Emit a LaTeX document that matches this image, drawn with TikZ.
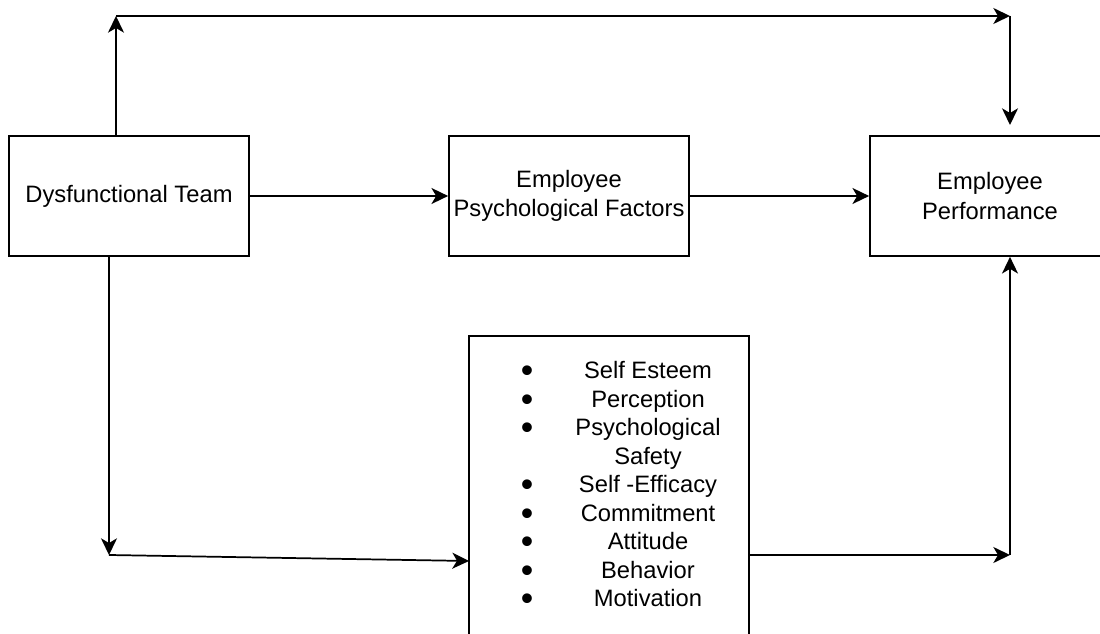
\documentclass[tikz,border=0pt]{standalone}
\usepackage{fontspec}
\setmainfont{Liberation Sans}
\usepackage{array}
\usetikzlibrary{arrows.meta}
\newcommand{\bigbul}{\smash{\raisebox{-0.17em}{\scalebox{1.5}{\textbullet}}}}
\begin{document}
\begin{tikzpicture}[x=0.75pt,y=-0.75pt,
  box/.style={draw,line width=1.3pt,minimum width=180pt,minimum height=90pt,align=center,inner sep=0pt,
    font=\fontsize{17.8}{22}\selectfont},
  arr/.style={line width=1.3pt,-{Stealth[length=12.5pt,width=12pt,inset=3.5pt]}}]
\useasboundingbox (0,0) rectangle (1100,634);
\node[box] (dt) at (129,196) {Dysfunctional Team};
\node[box] (epf) at (569,196) {Employee\\Psychological Factors};
\node[box] (ep) at (990,196) {Employee\\Performance};
\node[draw,line width=1.3pt,minimum width=210pt,minimum height=243pt,inner sep=0pt] (list) at (609,498) {};
\node[inner sep=0pt,font=\fontsize{17.8}{21.4}\selectfont] (items) at (638,487) {%
\begin{tabular}{@{}>{\centering\arraybackslash}p{15pt}@{}>{\centering\arraybackslash}p{166.5pt}@{}}
\bigbul & Self Esteem\\
\bigbul & Perception\\
\bigbul & Psychological\\
 & Safety\\
\bigbul & Self -Efficacy\\
\bigbul & Commitment\\
\bigbul & Attitude\\
\bigbul & Behavior\\
\bigbul & Motivation
\end{tabular}};
\coordinate (tl) at (116,16);
\coordinate (tr) at (1010,16);
\coordinate (epin) at (1010,125);
\coordinate (bl) at (109,555);
\coordinate (lin) at (469,561);
\coordinate (br) at (1010,555);
\draw[arr] (tl |- dt.north) -- (tl);
\draw[arr] (tl) -- (tr);
\draw[arr] (tr) -- (epin);
\draw[arr] (dt.east) -- (epf.west);
\draw[arr] (epf.east) -- (ep.west);
\draw[arr] (bl |- dt.south) -- (bl);
\draw[arr] (bl) -- (lin);
\draw[arr] (list.east |- br) -- (br);
\draw[arr] (br) -- (br |- ep.south);
\end{tikzpicture}
\end{document}
